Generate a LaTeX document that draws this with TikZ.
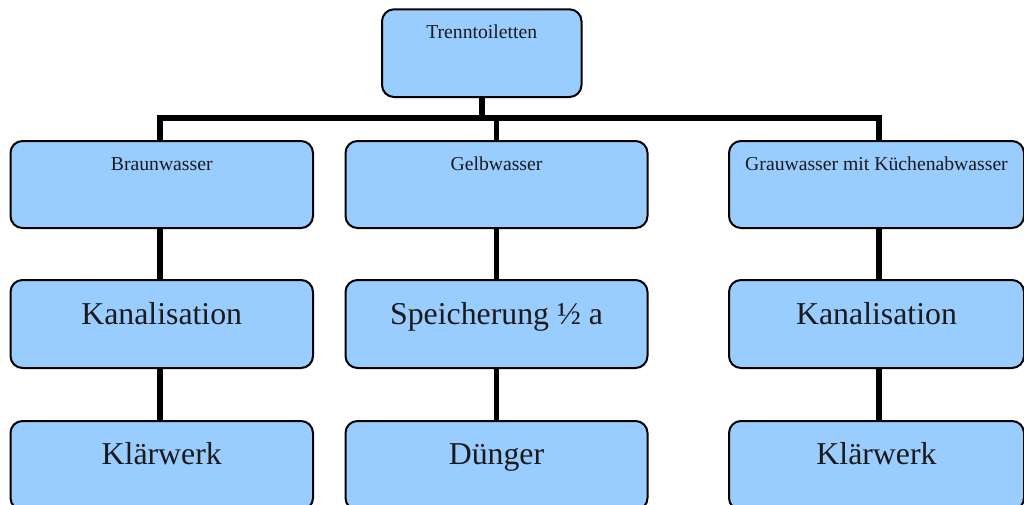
\documentclass[tikz,border=0pt]{standalone}
\usepackage{fontspec}
\setmainfont{Liberation Serif}
\definecolor{boxblue}{HTML}{99CCFF}
\definecolor{txt}{HTML}{1A1A1A}

\begin{document}
\begin{tikzpicture}[x=1pt,y=-1pt,
  box/.style={draw=black, line width=2pt, fill=boxblue, rounded corners=12pt,
    inner xsep=0pt, inner ysep=0pt, anchor=north west, align=center, text=txt},
  small/.style={font=\fontsize{19.7}{24}\selectfont},
  large/.style={font=\fontsize{31.8}{38}\selectfont},
  rowa/.style={small, text height=29pt, text depth=58pt},
  rowb/.style={large, text height=44pt, text depth=44pt},
  rowc/.style={large, text height=43pt, text depth=46pt},
  conn/.style={line width=5.5pt, line join=miter}]
\useasboundingbox (0,0) rectangle (1024,504);
\clip (0,0) rectangle (1024,504);

% root
\node[box, small, text height=29.4pt, text depth=58.3pt, minimum width=199.5pt]
  (top) at (381,8.3) {Trenntoiletten};

% first level
\node[box, rowa, minimum width=302.5pt] (bw1) at (9.5,140) {Braunwasser};
\node[box, rowa, minimum width=302pt]   (gw1) at (344.5,140) {Gelbwasser};
\node[box, rowa, minimum width=295pt]   (gr1) at (728,140) {Grauwasser mit Küchenabwasser};

% second level
\node[box, rowb, minimum width=302.5pt] (bw2) at (9.5,279) {Kanalisation};
\node[box, rowb, minimum width=302pt]   (gw2) at (344.5,279) {Speicherung ½ a};
\node[box, rowb, minimum width=295pt]   (gr2) at (728,279) {Kanalisation};

% third level
\node[box, rowc, minimum width=302.5pt] (bw3) at (9.5,420) {Klärwerk};
\node[box, rowc, minimum width=302pt]   (gw3) at (344.5,420) {Dünger};
\node[box, rowc, minimum width=295pt]   (gr3) at (728,420) {Klärwerk};

% distribution bar
\coordinate (barL) at (160,118);
\coordinate (barR) at (879,118);
\draw[conn] (top.south) -- (top.south |- barL);
\draw[conn] (bw1.north -| barL) -- (barL) -- (barR) -- (barR |- gr1.north);
\draw[conn] (gw1.north |- barL) -- (gw1.north);

% column links
\draw[conn] (bw1.south -| barL) -- (bw2.north -| barL);
\draw[conn] (bw2.south -| barL) -- (bw3.north -| barL);
\draw[conn] (gw1.south) -- (gw2.north);
\draw[conn] (gw2.south) -- (gw3.north);
\draw[conn] (gr1.south -| barR) -- (gr2.north -| barR);
\draw[conn] (gr2.south -| barR) -- (gr3.north -| barR);
\end{tikzpicture}
\end{document}
